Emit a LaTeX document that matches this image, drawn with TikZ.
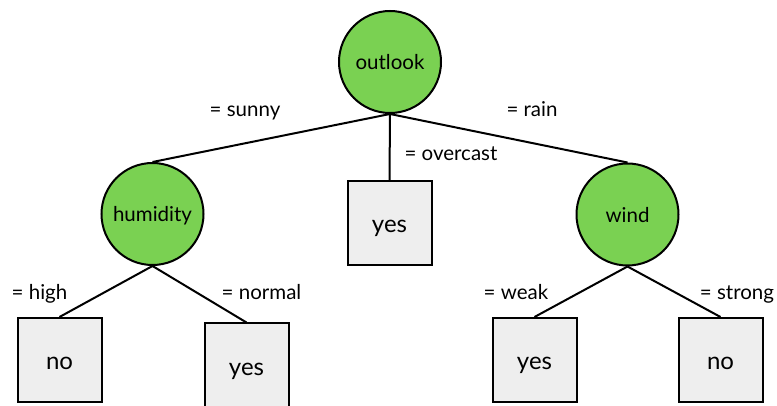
\documentclass[tikz,border=0pt]{standalone}
\usepackage{fontspec}
\setmainfont{Lato}
\definecolor{attrgreen}{RGB}{122,209,82}
\definecolor{leafgray}{RGB}{238,238,238}
\begin{document}
\begin{tikzpicture}[x=1pt,y=-1pt,
  attr/.style={circle,draw=black,line width=2pt,fill=attrgreen,
    minimum size=102pt,inner sep=0pt,text height=16pt,text depth=0pt,
    font=\fontsize{20.5}{24}\selectfont},
  leaf/.style={rectangle,draw=black,line width=2pt,fill=leafgray,
    minimum width=84pt,minimum height=84pt,inner sep=0pt,text height=20pt,text depth=0pt,
    font=\fontsize{24}{28}\selectfont},
  branch/.style={draw=black,line width=2pt},
  cond/.style={anchor=base,inner sep=0pt,font=\fontsize{20.5}{24}\selectfont}]
\useasboundingbox (0,0) rectangle (777,406);

% decision nodes
\node[attr] (outlook)  at (390,62)  {outlook};
\node[attr] (humidity) at (152.5,214) {humidity};
\node[attr] (wind)     at (627.5,214.5) {wind};

% leaves
\node[leaf] (yesmid)  at (389.5,223)  {yes};
\node[leaf] (nohum)   at (59.5,360)   {no};
\node[leaf] (yeshum)  at (246.5,365.5) {yes};
\node[leaf] (yeswind) at (534.5,360)  {yes};
\node[leaf] (nowind)  at (720.5,360)  {no};

% branches
\draw[branch] (outlook.south) -- (humidity.north);
\draw[branch] (outlook.south) -- (yesmid.north);
\draw[branch] (outlook.south) -- (wind.north);
\draw[branch] (humidity.south) -- (nohum.north);
\draw[branch] (humidity.south) -- (yeshum.north);
\draw[branch] (wind.south) -- (yeswind.north);
\draw[branch] (wind.south) -- (nowind.north);

% branch conditions
\node[cond] (csunny)    at (245,117)   {= sunny};
\node[cond] (covercast) at (451,161)   {= overcast};
\node[cond] (crain)     at (532,117)   {= rain};
\node[cond] (chigh)     at (39.5,300)  {= high};
\node[cond] (cnormal)   at (261.5,300) {= normal};
\node[cond] (cweak)     at (516,300)   {= weak};
\node[cond] (cstrong)   at (737,300)   {= strong};
\end{tikzpicture}
\end{document}
